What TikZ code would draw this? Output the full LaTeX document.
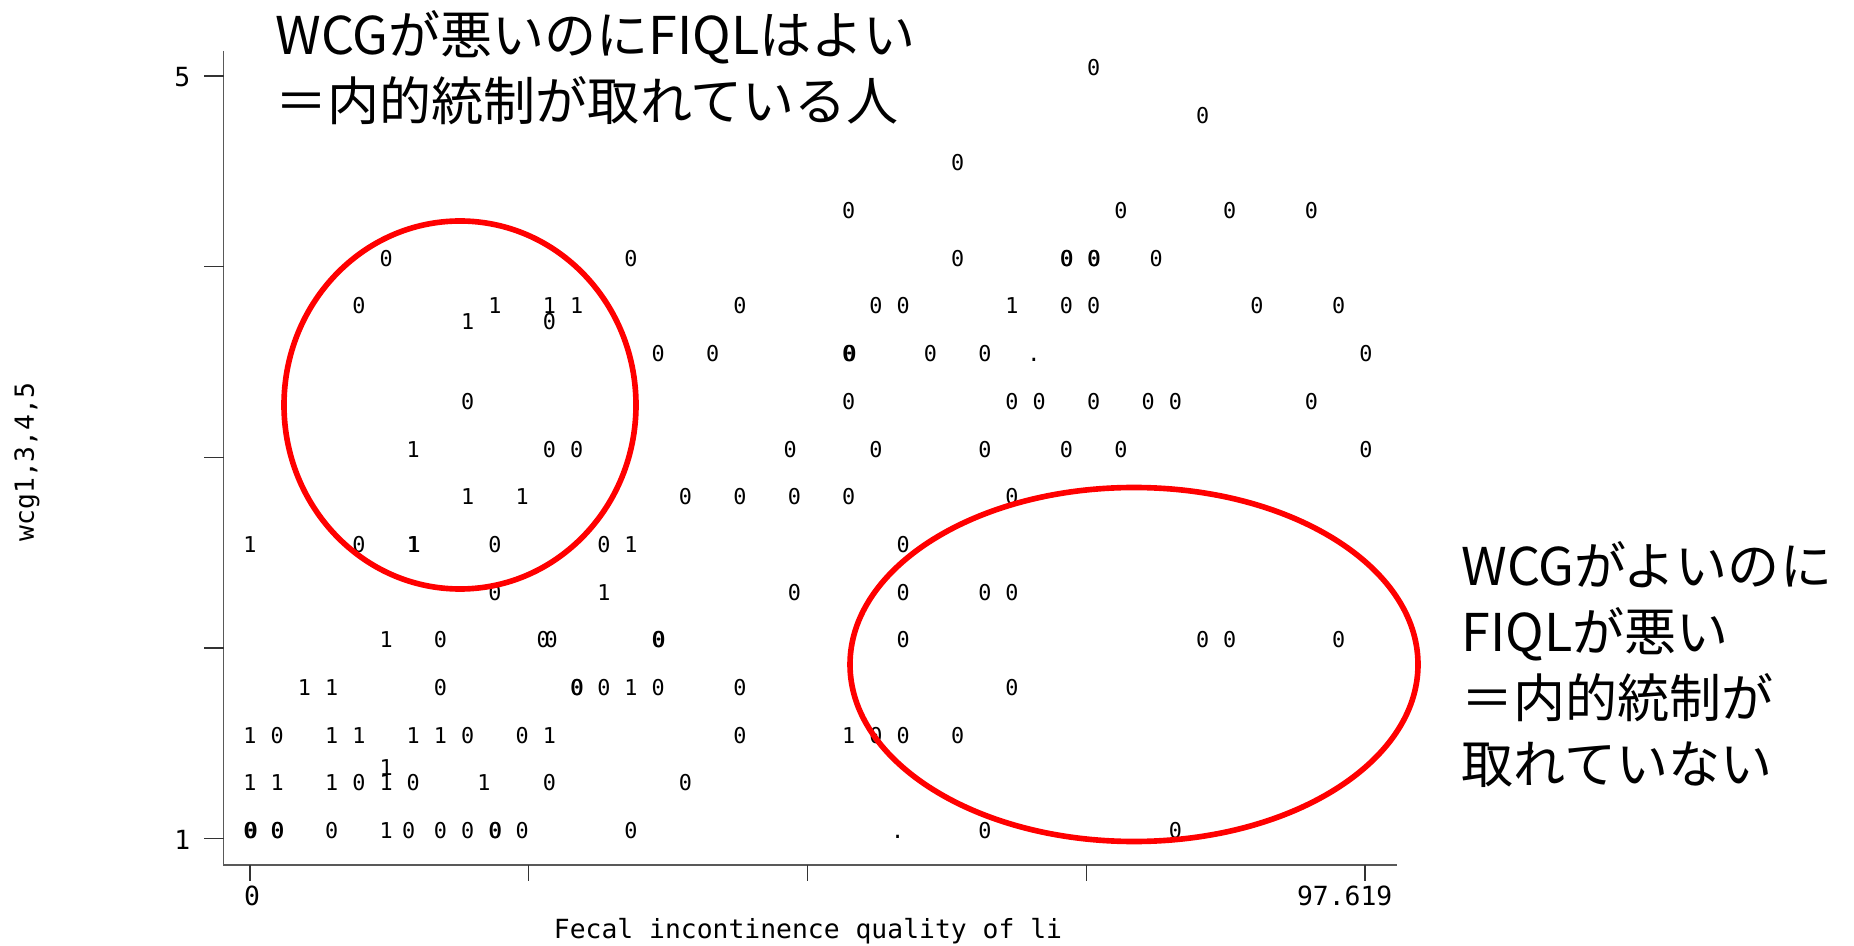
\documentclass[tikz,border=0pt]{standalone}
\usepackage{fontspec}
\setmainfont{Liberation Sans}
\newfontfamily\jpfont{Noto Sans CJK JP}
\newfontfamily\statafont{DejaVu Sans Mono}

\begin{document}
\begin{tikzpicture}[x=0.01cm,y=-0.01cm,
  axis/.style={gray!70!black,line width=0.5pt},
  tick/.style={black!80,line width=0.4pt},
  ticklab/.style={inner sep=0pt,font=\statafont\fontsize{7.5}{9}\selectfont},
  datum/.style={inner sep=0pt,anchor=base,font=\statafont\fontsize{6.2}{7}\selectfont},
  ring/.style={draw=red,line width=1.6pt},
  note/.style={inner sep=0pt,anchor=north west,align=left,font=\jpfont\fontsize{14.8}{18.7}\selectfont}]
\path[fill=white] (0,0) rectangle (1854,946);
\draw[axis] (223.5,51) -- (223.5,865) -- (1397,865);
\foreach \y in {76,266.7,457.3,648,838.7}
  \draw[tick] (204,\y) -- (223.5,\y);
\foreach \x in {250,528.75,807.5,1086.25,1365}
  \draw[tick] (\x,865) -- (\x,881);
\node[ticklab,anchor=east] (y5) at (191,77) {5};
\node[ticklab,anchor=east] (y1) at (191,840) {1};
\node[ticklab] (x0) at (252,896) {0};
\node[ticklab,anchor=east] (xmax) at (1393,896) {97.619};
\node[ticklab,anchor=base] (xtitle) at (808,938) {Fecal incontinence quality of li};
\node[ticklab,rotate=90] (ytitle) at (27,462) {wcg1,3,4,5};
\begin{scope}[shift={(250,1029.35)},x=0.272cm,y=1.9067cm]
\foreach \v/\row [count=\r] in {
    5/{31/0},
    4.75/{35/0},
    4.5/{26/0},
    4.25/{22/0,32/0,36/0,39/0},
    4/{5/0,14/0,26/0,30/0,30.03/0,31/0,31.03/0,33.3/0},
    3.75/{4/0,9/1,11/1,12/1,18/0,23/0,24/0,28/1,30/0,31/0,37/0,40/0},
    3.667/{8/1,11/0},
    3.5/{15/0,17/0,22/0,22.05/0,25/0,27/0,28.8/.,41/0},
    3.25/{8/0,22/0,28/0,29/0,31/0,33/0,34/0,39/0},
    3/{6/1,11/0,12/0,19.85/0,23/0,27/0,30/0,32/0,41/0},
    2.75/{8/1,10/1,16/0,18/0,20/0,22/0,28/0},
    2.5/{0/1,4/0,6/1,6.03/1,9/0,13/0,14/1,24/0},
    2.25/{9/0,13/1,20/0,24/0,27/0,28/0},
    2/{5/1,7/0,10.77/0,11.07/0,15/0,15.03/0,24/0,35/0,36/0,40/0},
    1.75/{2/1,3/1,7/0,12/0,12.03/0,13/0,14/1,15/0,18/0,28/0},
    1.5/{0/1,1/0,3/1,4/1,6/1,7/1,8/0,10/0,11/1,18/0,22/1,23/0,24/0,26/0},
    1.333/{5/1},
    1.25/{0/1,1/1,3/1,4/0,5/1,6/0,8.6/1,11/0,16/0},
    1/{0/0,0.05/0,1/0,1.03/0,3/0,5/1,5.83/0,7/0,8/0,9/0,9.03/0,10/0,14/0,23.8/.,27/0,34/0}}
  \foreach \j/\m [count=\n] in \row
    \node[datum] (d\r-\n) at (\j,\v) {\m};
\end{scope}
\draw[ring] (460,405) ellipse [x radius=176,y radius=184];
\draw[ring] (1134,664.5) ellipse [x radius=284,y radius=177];
\node[note] (badwcg) at (275,10) {WCGが悪いのにFIQLはよい\\＝内的統制が取れている人};
\node[note] (goodwcg) at (1461,541) {WCGがよいのに\\FIQLが悪い\\＝内的統制が\\取れていない};
\end{tikzpicture}
\end{document}
